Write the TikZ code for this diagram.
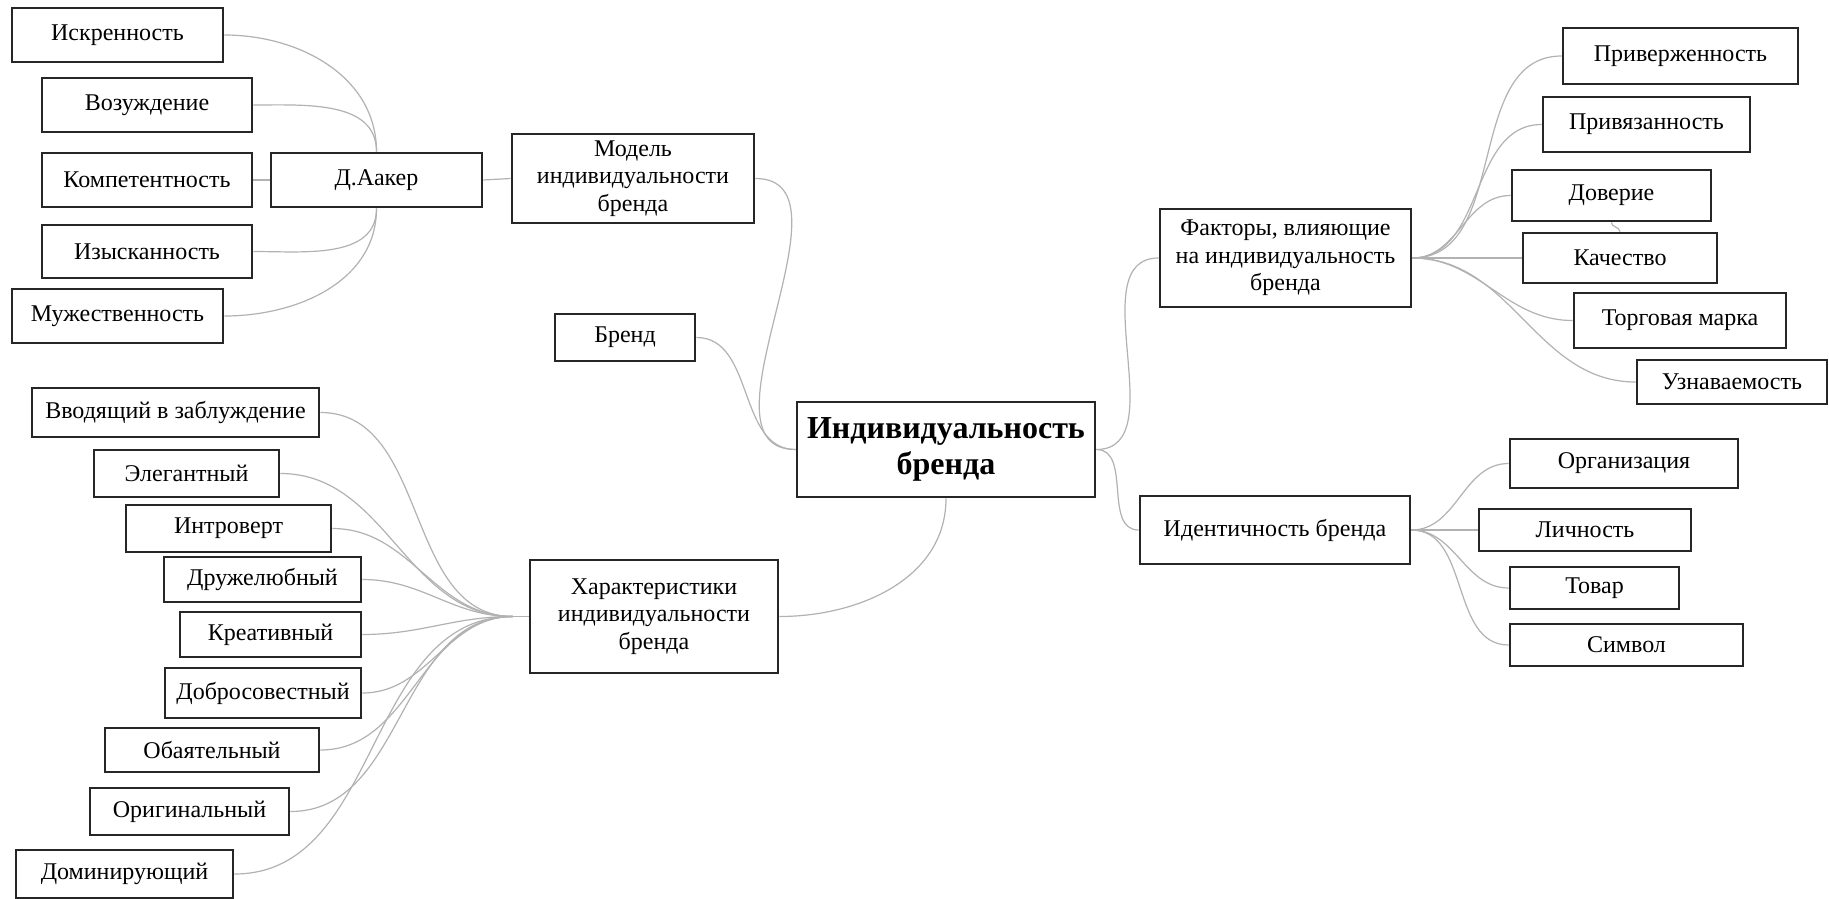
\documentclass[tikz,border=0pt]{standalone}
\usepackage{fontspec}
\setmainfont{Liberation Serif}
\usetikzlibrary{backgrounds}
\tikzset{box/.style={draw=black!85,line width=2.8pt,fill=white,align=center,inner sep=0pt,font=\fontsize{24}{27.5}\selectfont},
  sz/.style 2 args={minimum width=#1pt,minimum height=#2pt},
  link/.style={draw=black!30,line width=1.2pt},
  fan/.style={link,out=0,in=180}}

\begin{document}
\begin{tikzpicture}[x=1pt,y=-1pt]
\useasboundingbox (0,0) rectangle (1829,899);
\node[box,sz={298}{95},font=\fontsize{32}{36}\selectfont\bfseries] (ib) at (946,449.5) {Индивидуальность\\бренда};
\node[box,sz={242}{89}] (model) at (633,178.5) {Модель\\индивидуальности\\бренда};
\node[box,sz={140}{47}] (brand) at (625,337.5) {Бренд};
\node[box,sz={248}{113}] (harakt) at (654,616.5) {Характеристики\\индивидуальности\\бренда};
\node[box,sz={251}{98}] (faktory) at (1285.5,258) {Факторы, влияющие\\на индивидуальность\\бренда};
\node[box,sz={270}{68}] (ident) at (1275,530) {Идентичность бренда};
\node[box,sz={211}{54}] (aaker) at (376.5,180) {Д.Аакер};
\node[box,sz={211}{54}] (isk) at (117.5,35) {Искренность};
\node[box,sz={210}{54}] (voz) at (147,105) {Возуждение};
\node[box,sz={210}{54}] (komp) at (147,180) {Компетентность};
\node[box,sz={210}{53}] (izysk) at (147,251.5) {Изысканность};
\node[box,sz={211}{54}] (muzh) at (117.5,316) {Мужественность};
\node[box,sz={287}{49}] (vvod) at (175.5,412.5) {Вводящий в заблуждение};
\node[box,sz={185}{47}] (eleg) at (186.5,473.5) {Элегантный};
\node[box,sz={205}{47}] (intro) at (228.5,528.5) {Интроверт};
\node[box,sz={197}{45}] (druzh) at (262.5,579.5) {Дружелюбный};
\node[box,sz={181}{45}] (kreat) at (270.5,634.5) {Креативный};
\node[box,sz={196}{50}] (dobro) at (263,693) {Добросовестный};
\node[box,sz={214}{44}] (obay) at (212,750) {Обаятельный};
\node[box,sz={199}{47}] (orig) at (189.5,811.5) {Оригинальный};
\node[box,sz={217}{48}] (domin) at (124.5,874) {Доминирующий};
\node[box,sz={235}{56}] (priv) at (1680.5,56) {Приверженность};
\node[box,sz={207}{55}] (privyaz) at (1646.5,124.5) {Привязанность};
\node[box,sz={199}{51}] (dover) at (1611.5,195.5) {Доверие};
\node[box,sz={194}{50}] (kach) at (1620,258) {Качество};
\node[box,sz={212}{55}] (torg) at (1680,320.5) {Торговая марка};
\node[box,sz={190}{44}] (uzn) at (1732,382) {Узнаваемость};
\node[box,sz={228}{49}] (org) at (1624,463.5) {Организация};
\node[box,sz={212}{42}] (lich) at (1585,530) {Личность};
\node[box,sz={169}{42}] (tovar) at (1594.5,588) {Товар};
\node[box,sz={233}{42}] (simv) at (1626.5,645) {Символ};
\coordinate (hin) at ([xshift=-16pt]harakt.west);
\begin{scope}[on background layer]
\fill[white] (0,0) rectangle (1829,899);
\draw[fan] (model.east) to (ib.west);\draw[fan] (brand.east) to (ib.west);
\draw[link] (harakt.east) to[out=0,in=-90] (ib.south);
\draw[fan] (ib.east) to (faktory.west);\draw[fan] (ib.east) to (ident.west);
\draw[link] (aaker.east)--(model.west);\draw[link] (komp.east)--(aaker.west);
\foreach \n in {isk,voz} \draw[link] (\n.east) to[out=0,in=90] (aaker.north);
\foreach \n in {izysk,muzh} \draw[link] (\n.east) to[out=0,in=-90] (aaker.south);
\draw[link] (hin)--(harakt.west);
\foreach \n in {vvod,eleg,intro,druzh,kreat,dobro,obay,orig,domin} \draw[fan] (\n.east) to (hin);
\foreach \n in {priv,privyaz,dover,kach,torg,uzn} \draw[fan] (faktory.east) to (\n.west);
\foreach \n in {org,lich,tovar,simv} \draw[fan] (ident.east) to (\n.west);
\draw[link] (dover.south) to[out=-100,in=90] (kach.north);
\end{scope}
\end{tikzpicture}
\end{document}
